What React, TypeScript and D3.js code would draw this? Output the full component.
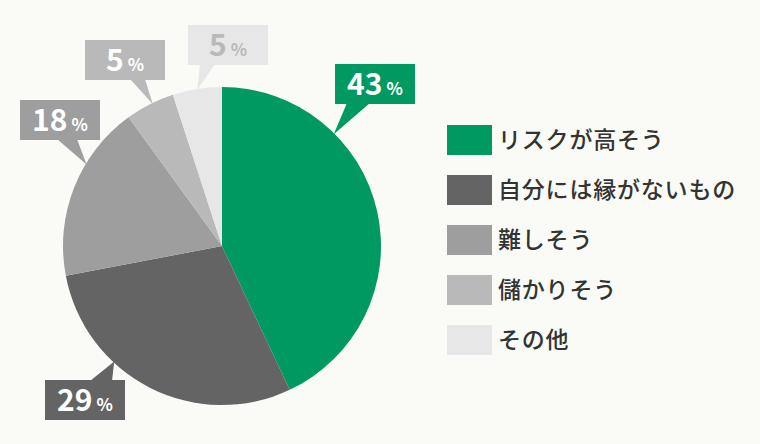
import React from "react";
import * as d3 from "d3";

// values
const categories = ["リスクが高そう", "自分には縁がないもの", "難しそう", "儲かりそう", "その他"];
const percents = [43, 29, 18, 5, 5];
const colors = ["#019962", "#646464", "#9e9e9e", "#b9b9b9", "#e7e7e7"];
const labelTextColors = ["#ffffff", "#ffffff", "#ffffff", "#ffffff", "#b9b9b9"];

// callout layout: box top-left + where the pointer meets the pie (angle in degrees)
const callouts = [
  { bx: 335, by: 64, tipDeg: 45, baseL: 12, baseR: 35, up: false },
  { bx: 45, by: 380, tipDeg: 223, baseL: 45, baseR: 67, up: true },
  { bx: 20, by: 100, tipDeg: 301, baseL: 37, baseR: 57, up: false },
  { bx: 85, by: 40, tipDeg: 334, baseL: 45, baseR: 60, up: false },
  { bx: 188, by: 25, tipDeg: 351, baseL: 12, baseR: 27, up: false },
];

const W = 760, H = 444;
const cx = 222, cy = 246, R = 159;
const boxW = 80, boxH = 40;

const App: React.FC = () => {
  const pie = d3.pie<number>().sort(null).value((d) => d);
  const arcs = pie(percents);
  const arc = d3.arc<d3.PieArcDatum<number>>().innerRadius(0).outerRadius(R);

  const font = "'Noto Sans CJK JP', 'Noto Sans', sans-serif";

  return (
    <div style={{ position: "fixed", left: 0, top: 0 }}>
      <svg width={W} height={H} style={{ display: "block", background: "#fafbf6" }}>
        <g transform={`translate(${cx},${cy})`}>
          {arcs.map((a, i) => (
            <path key={i} d={arc(a) || ""} fill={colors[i]} />
          ))}
        </g>

        {callouts.map((c, i) => {
          const rad = (c.tipDeg * Math.PI) / 180;
          const tx = cx + Math.sin(rad) * (R - 1);
          const ty = cy - Math.cos(rad) * (R - 1);
          const baseY = c.up ? c.by + 1 : c.by + boxH - 1;
          return (
            <g key={i}>
              <path
                d={`M${c.bx + c.baseL},${baseY}L${tx},${ty}L${c.bx + c.baseR},${baseY}Z`}
                fill={colors[i]}
              />
              <rect x={c.bx} y={c.by} width={boxW} height={boxH} fill={colors[i]} />
              <text
                x={c.bx + boxW / 2}
                y={c.by + 31}
                textAnchor="middle"
                fill={labelTextColors[i]}
                fontFamily={font}
                fontWeight={700}
              >
                <tspan fontSize={30}>{percents[i]}</tspan>
                <tspan fontSize={17} dx={4}>%</tspan>
              </text>
            </g>
          );
        })}

        {categories.map((name, i) => (
          <g key={name} transform={`translate(447,${125 + i * 50})`}>
            <rect width={45} height={30} fill={colors[i]} />
            <text
              x={51}
              y={15}
              dy="0.36em"
              fontSize={23}
              fontWeight={500}
              letterSpacing={0.8}
              fill="#333333"
              fontFamily={font}
            >
              {name}
            </text>
          </g>
        ))}
      </svg>
    </div>
  );
};

export default App;
